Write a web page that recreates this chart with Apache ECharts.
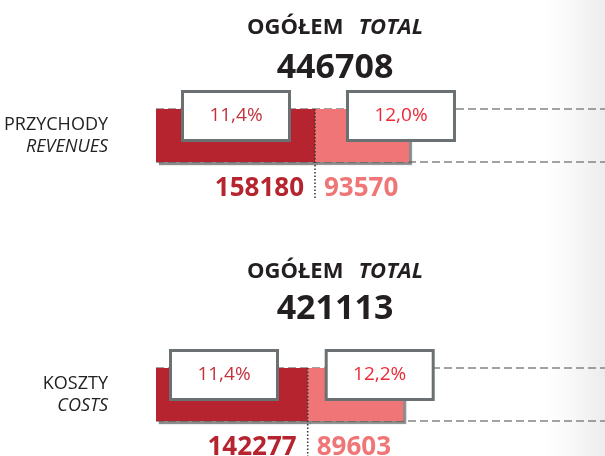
<!DOCTYPE html>
<html>
<head>
<meta charset="utf-8">
<script src="https://cdn.jsdelivr.net/npm/echarts@6/dist/echarts.min.js"></script>
<style>
  html, body { margin: 0; padding: 0; background: #fff; }
  #chart { width: 605px; height: 456px; }
</style>
</head>
<body>
<div id="chart"></div>
<script>
// dane
const rowNames = ["PRZYCHODY", "KOSZTY"];
const rowNamesEn = ["REVENUES", "COSTS"];
const totals = [446708, 421113];
const darkValues = [158180, 142277];
const lightValues = [93570, 89603];
const darkShares = ["11,4%", "11,4%"];
const lightShares = ["12,0%", "12,2%"];

const FONT = "'Open Sans', 'Noto Sans', sans-serif";
const DARK = "#b5242f";
const LIGHT = "#f07577";

// pozycje paneli (góra paska) i przesunięcia ramek z procentami
const barTop = [109, 368];
const titleTop = [12, 256];
const barH = 53;
const darkBoxDx = [28, 16];
const lightBoxDx = [34, 20];

const chart = echarts.init(document.getElementById("chart"));

const grids = [], xAxes = [], yAxes = [], series = [], titles = [];

const boxLabel = (dx, text, color) => ({
  show: true,
  position: [dx, -16],
  formatter: "{t|" + text + "}",
  backgroundColor: "#fff",
  borderColor: "#6b7072",
  borderWidth: 3,
  padding: 0,
  rich: {
    t: {
      width: 104,
      height: 46,
      lineHeight: 46,
      align: "center",
      fontFamily: FONT,
      fontSize: 19,
      color: color,
    },
  },
});

const numLabel = (pos, offset, align, color) => ({
  show: true,
  position: pos,
  offset: offset,
  align: align,
  verticalAlign: "middle",
  fontFamily: FONT,
  fontWeight: "bold",
  fontSize: 26,
  color: color,
});

rowNames.forEach((name, i) => {
  grids.push({ left: 156, right: 0, top: barTop[i], height: barH });
  xAxes.push({
    type: "value",
    gridIndex: i,
    min: 0,
    max: totals[i],
    show: false,
  });
  yAxes.push({
    type: "category",
    gridIndex: i,
    data: [name + "\n" + rowNamesEn[i]],
    axisLine: { show: false },
    axisTick: { show: false },
    splitLine: {
      show: true,
      lineStyle: { color: "#848484", width: 1.6, type: [8, 4] },
    },
    axisLabel: {
      margin: 48,
      formatter: () => "{a|" + name + "}\n{b|" + rowNamesEn[i] + "}",
      rich: {
        a: { fontFamily: FONT, fontSize: 18, color: "#222", lineHeight: 22, align: "right" },
        b: { fontFamily: FONT, fontSize: 18, fontStyle: "italic", color: "#222", lineHeight: 22, align: "right" },
      },
    },
  });

  const shadow = {
    shadowColor: "rgba(90,90,90,0.7)",
    shadowBlur: 1,
    shadowOffsetX: 3,
    shadowOffsetY: 3,
  };

  series.push(
    {
      type: "bar",
      xAxisIndex: i,
      yAxisIndex: i,
      stack: "s" + i,
      barWidth: barH,
      data: [darkValues[i]],
      itemStyle: Object.assign({ color: DARK }, shadow),
      label: boxLabel(darkBoxDx[i], darkShares[i], "#c3333d"),
      silent: true,
      z: 2,
    },
    {
      type: "bar",
      xAxisIndex: i,
      yAxisIndex: i,
      stack: "s" + i,
      barWidth: barH,
      data: [lightValues[i]],
      itemStyle: Object.assign({ color: LIGHT }, shadow),
      label: boxLabel(lightBoxDx[i], lightShares[i], "#ee2a38"),
      silent: true,
      z: 2,
    },
    // niewidoczne kopie tylko dla podpisów liczbowych
    {
      type: "bar",
      xAxisIndex: i,
      yAxisIndex: i,
      stack: "n" + i,
      barGap: "-100%",
      barWidth: barH,
      data: [darkValues[i]],
      itemStyle: { color: "rgba(0,0,0,0)" },
      label: numLabel(["100%", "100%"], [-11, 27], "right", DARK),
      silent: true,
      z: 3,
    },
    {
      type: "bar",
      xAxisIndex: i,
      yAxisIndex: i,
      stack: "n" + i,
      barWidth: barH,
      data: [lightValues[i]],
      itemStyle: { color: "rgba(0,0,0,0)" },
      label: numLabel(["0%", "100%"], [9, 27], "left", LIGHT),
      silent: true,
      z: 3,
    }
  );

  titles.push({
    left: 330,
    top: titleTop[i],
    textAlign: "center",
    text: "{a|OGÓŁEM}   {b|TOTAL}",
    subtext: String(totals[i]),
    itemGap: i === 0 ? 12 : 9,
    textStyle: {
      rich: {
        a: { fontFamily: FONT, fontWeight: "bold", fontSize: 22, color: "#231f20" },
        b: { fontFamily: FONT, fontStyle: "italic", fontWeight: "bold", fontSize: 22, color: "#231f20" },
      },
    },
    subtextStyle: {
      fontFamily: FONT,
      fontWeight: "bold",
      fontSize: 34,
      color: "#231f20",
    },
  });
});

chart.setOption({
  animation: false,
  backgroundColor: "#fff",
  title: titles,
  grid: grids,
  xAxis: xAxes,
  yAxis: yAxes,
  series: series,
});

// kropkowana linia na granicy segmentów + szare tło z prawej
const graphics = [
  {
    type: "rect",
    shape: { x: 545, y: 0, width: 60, height: 456 },
    style: {
      fill: new echarts.graphic.LinearGradient(0, 0, 1, 0, [
        { offset: 0, color: "rgba(235,235,235,0)" },
        { offset: 1, color: "rgba(228,228,228,0.7)" },
      ]),
    },
    z: -10,
    silent: true,
  },
];
rowNames.forEach((name, i) => {
  const p = chart.convertToPixel({ gridIndex: i }, [darkValues[i], 0]);
  graphics.push({
    type: "line",
    shape: { x1: p[0], y1: barTop[i], x2: p[0], y2: barTop[i] + barH + 36 },
    style: { stroke: "#333", lineWidth: 1.5, lineDash: [1.5, 2] },
    z: 50,
    silent: true,
  });
});
chart.setOption({ graphic: graphics });

window.addEventListener("resize", () => chart.resize());
</script>
</body>
</html>
